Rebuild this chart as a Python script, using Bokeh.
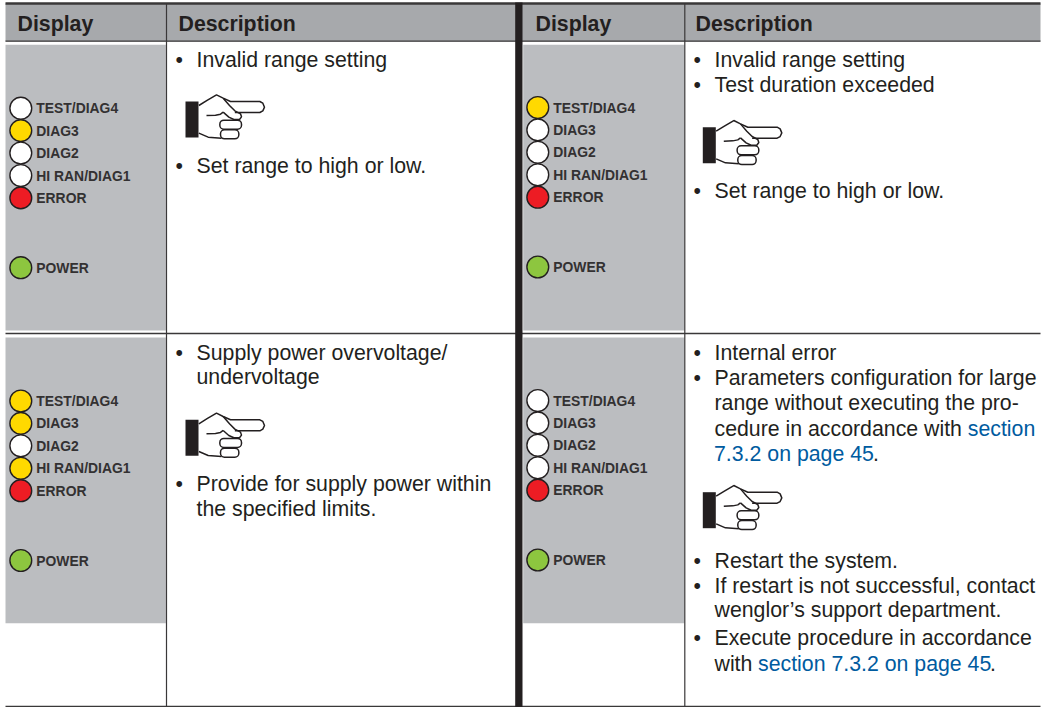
from bokeh.plotting import figure
from bokeh.embed import file_html
from bokeh.resources import INLINE
from bokeh.core.properties import value

W, H = 1054, 707
FONT = "Liberation Sans"
INK = "#231f20"
BLUE = "#005b9f"
LED = {"w": "#ffffff", "y": "#ffd900", "r": "#ed1c24", "g": "#8dc63f"}

header_labels = ["Display", "Description", "Display", "Description"]
led_labels = ["TEST/DIAG4", "DIAG3", "DIAG2", "HI RAN/DIAG1", "ERROR", "POWER"]
led_states = [
    ["w", "y", "w", "w", "r", "g"],
    ["y", "w", "w", "w", "r", "g"],
    ["y", "y", "w", "y", "r", "g"],
    ["w", "w", "w", "w", "r", "g"],
]
desc_cell_1 = [("b", "Invalid range setting", 59), ("b", "Set range to high or low.", 165)]
desc_cell_2 = [("b", "Invalid range setting", 59), ("b", "Test duration exceeded", 84), ("b", "Set range to high or low.", 190)]
desc_cell_3 = [("b", "Supply power overvoltage/", 352), ("", "undervoltage", 376),
               ("b", "Provide for supply power within", 483), ("", "the specified limits.", 508)]
desc_cell_4 = [("b", "Internal error", 352), ("b", "Parameters configuration for large", 377),
               ("", "range without executing the pro-", 402), ("", "cedure in accordance with", 428),
               ("b", "Restart the system.", 560), ("b", "If restart is not successful, contact", 585),
               ("", "wenglor\u2019s support department.", 609), ("b", "Execute procedure in accordance", 637),
               ("", "with", 663)]
link_cell_4 = [("section", 967.3, 428), ("7.3.2 on page 45", 713.5, 453), ("section 7.3.2 on page 45", 757.5, 663)]
dot_cell_4 = [(872.5, 453), (989.5, 663)]

# layout
col_display = [(5, 165.4), (522.7, 684)]
row_display = [(44.3, 330), (337, 622.7)]
hand_pos = [(185, 101), (702.3, 126.7), (185, 419.3), (702.3, 491.7)]
led_origin = [(20.3, 107.7), (537.3, 107), (20.3, 400.5), (537.3, 400)]
led_offset = [0, 22.4, 44.8, 67.3, 89.7, 159.5]

p = figure(width=W, height=H, x_range=(0, W), y_range=(H, 0), toolbar_location=None,
           output_backend="svg", min_border=0, outline_line_color=None,
           background_fill_color="white", border_fill_color="white")
p.axis.visible = False
p.grid.visible = False

# header band
p.quad(left=[5], right=[1040], top=[3], bottom=[41], fill_color="#a7a9ac", line_color=None)

# display cells
cells = [(c, r) for r in row_display for c in col_display]
p.quad(left=[c[0] for c, r in cells], right=[c[1] for c, r in cells],
       top=[r[0] for c, r in cells], bottom=[r[1] for c, r in cells],
       fill_color="#bbbdc0", line_color=None)

# rules
p.segment(x0=[5], y0=[3], x1=[1040], y1=[3], line_color="#3a3839", line_width=2.5)
p.segment(x0=[5, 5], y0=[40.7, 333], x1=[1040, 1040], y1=[40.7, 333], line_color="#3a3839", line_width=1.3)
p.segment(x0=[5], y0=[706], x1=[1040], y1=[706], line_color="#3a3839", line_width=1.6)
p.segment(x0=[166, 684.3], y0=[3, 3], x1=[166, 684.3], y1=[706, 706], line_color="#3a3839", line_width=1.2)
p.quad(left=[514.7], right=[522], top=[2], bottom=[707], fill_color=INK, line_color=None)

# header text
p.text(x=[17, 178, 535, 695], y=[23, 23, 23, 23], text=header_labels, text_font=value(FONT),
       text_font_style="bold", text_font_size="21.3px", text_color=INK, text_baseline="alphabetic")

# LEDs
for (ox, oy), states in zip(led_origin, led_states):
    p.circle(x=[ox] * 6, y=[oy + d for d in led_offset], radius=10.9,
             fill_color=[LED[s] for s in states], line_color=INK, line_width=1.4)
    p.text(x=[ox + 15.5] * 6, y=[oy + d for d in led_offset], text=led_labels,
           text_font=value(FONT), text_font_style="bold", text_font_size="13.9px",
           text_color="#333132", text_baseline="alphabetic")

# descriptions
for x0, cell in zip([196, 714, 196, 714], [desc_cell_1, desc_cell_2, desc_cell_3, desc_cell_4]):
    p.text(x=[x0] * len(cell), y=[c[2] for c in cell], text=[c[1] for c in cell],
           text_font=value(FONT), text_font_size="21.3px", text_color=INK, text_baseline="alphabetic")
    bl = [c[2] for c in cell if c[0] == "b"]
    p.text(x=[x0 - 21] * len(bl), y=bl, text=["\u2022"] * len(bl),
           text_font=value(FONT), text_font_size="21.3px", text_color=INK, text_baseline="alphabetic")
p.text(x=[c[1] for c in link_cell_4], y=[c[2] for c in link_cell_4], text=[c[0] for c in link_cell_4],
       text_font=value(FONT), text_font_size="21.3px", text_color=BLUE, text_baseline="alphabetic")
p.text(x=[d[0] for d in dot_cell_4], y=[d[1] for d in dot_cell_4], text=["."] * len(dot_cell_4),
       text_font=value(FONT), text_font_size="21.3px", text_color=INK, text_baseline="alphabetic")

# pointing hand, outline traced in 3x units relative to cuff corner
hand_outline = [(40, 12), (66, -4), (93, -20), (113, -10), (135, 0), (223, 0), (232, 5), (237, 17), (232, 28),
                (223, 33), (148, 33), (165, 38), (168, 46), (160, 54),
                (150, 62), (150, 85), (145, 108), (108, 110), (68, 107), (40, 95)]
hand_fold = [(113, -10), (132, 12), (148, 28), (165, 37), (168, 46), (162, 54), (145, 54), (130, 47), (113, 32)]
hand_thumb = [(63, 42), (90, 41), (105, 38), (113, 32)]
hand_palm_low = [(40, 95), (68, 107), (108, 110)]
hand_top = [(40, 12), (66, -4), (93, -20), (113, -10), (135, 0), (223, 0), (232, 5), (237, 17), (232, 28),
            (223, 33), (148, 33)]
finger_boxes = [(103, 168, 56, 83), (105, 160, 85, 112)]

for hx, hy in hand_pos:
    tx = lambda pts: ([hx + a / 3 for a, b in pts], [hy + b / 3 for a, b in pts])
    xs, ys = tx(hand_outline)
    p.patch(xs, ys, fill_color="white", line_color=None)
    p.quad(left=[hx + f[0] / 3 for f in finger_boxes], right=[hx + f[1] / 3 for f in finger_boxes],
           top=[hy + f[2] / 3 for f in finger_boxes], bottom=[hy + f[3] / 3 for f in finger_boxes],
           border_radius=4, fill_color="white", line_color=INK, line_width=1.5)
    for pts in (hand_top, hand_fold, hand_thumb, hand_palm_low):
        a, b = tx(pts)
        p.line(a, b, line_color=INK, line_width=1.5)
    p.quad(left=[hx], right=[hx + 13], top=[hy], bottom=[hy + 36], fill_color=INK, line_color=None)

open("out.html", "w").write(file_html(p, INLINE))
